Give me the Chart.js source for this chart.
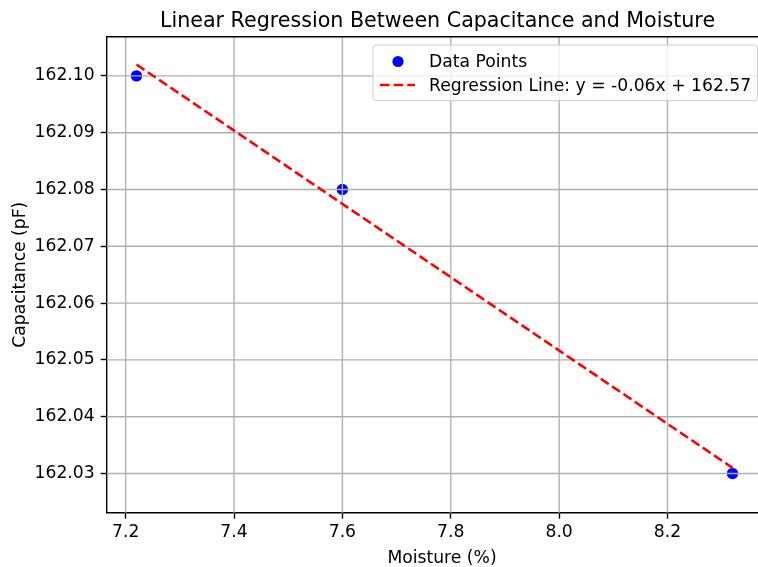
<!DOCTYPE html>
<html><head><meta charset="utf-8">
<script src="https://cdn.jsdelivr.net/npm/chart.js@4"></script>
<style>html,body{margin:0;padding:0;overflow:hidden;background:#fff;width:758px;height:567px}
canvas{display:block}</style></head>
<body><canvas id="c" width="768" height="567" style="width:768px;height:567px"></canvas>
<script>
// ---- data ----
const moisture = [7.22, 7.60, 8.32];
const capacitance = [162.10, 162.08, 162.03];
const lineX = [7.22, 8.32];
const lineY = [162.102, 162.031];
const xTicks = [7.2, 7.4, 7.6, 7.8, 8.0, 8.2];
const yTicks = [162.03, 162.04, 162.05, 162.06, 162.07, 162.08, 162.09, 162.10];
const titleText = 'Linear Regression Between Capacitance and Moisture';
const xLabel = 'Moisture (%)';
const yLabel = 'Capacitance (pF)';
const legendLabels = ['Data Points', 'Regression Line: y = -0.06x + 162.57'];

const FONT = '"DejaVu Sans", sans-serif';
const GRID = '#b0b0b0';
const PT = 1.72;
const FS = 17.2;

const gridOverScatter = {
  id: 'gridOverScatter',
  afterDatasetDraw(chart, args) {
    if (args.index !== 0) return;
    const {ctx, chartArea: a, scales} = chart;
    ctx.save();
    ctx.strokeStyle = GRID; ctx.lineWidth = 0.8 * PT;
    ctx.beginPath();
    xTicks.forEach(v => { const px = scales.x.getPixelForValue(v); ctx.moveTo(px, a.top); ctx.lineTo(px, a.bottom); });
    yTicks.forEach(v => { const py = scales.y.getPixelForValue(v); ctx.moveTo(a.left, py); ctx.lineTo(a.right, py); });
    ctx.stroke();
    ctx.restore();
  }
};

const deco = {
  id: 'deco',
  afterDraw(chart) {
    const {ctx, chartArea: a} = chart;
    ctx.save();
    // top spine
    ctx.strokeStyle = '#000'; ctx.lineWidth = 0.8 * PT;
    ctx.beginPath(); ctx.moveTo(a.left, a.top); ctx.lineTo(a.right, a.top); ctx.stroke();
    // title
    ctx.fillStyle = '#000';
    ctx.textAlign = 'center'; ctx.textBaseline = 'alphabetic';
    ctx.font = (FS * 1.2) + 'px ' + FONT;
    ctx.fillText(titleText, 437.5, 26.5);
    // x label
    ctx.font = FS + 'px ' + FONT;
    ctx.fillText(xLabel, 442, 562.5);
    // y label
    ctx.save();
    ctx.translate(24.5, (a.top + a.bottom) / 2);
    ctx.rotate(-Math.PI / 2);
    ctx.fillText(yLabel, 0, 0);
    ctx.restore();
    // legend
    const L = 373, T = 45, R = 757.5, B = 100.7;
    ctx.beginPath();
    ctx.roundRect(L, T, R - L, B - T, 3);
    ctx.fillStyle = 'rgba(255,255,255,0.8)';
    ctx.fill();
    ctx.strokeStyle = '#cccccc'; ctx.lineWidth = 1;
    ctx.stroke();
    ctx.fillStyle = '#0000ff';
    ctx.beginPath(); ctx.arc(398, 61.5, 5.6, 0, Math.PI * 2); ctx.fill();
    ctx.strokeStyle = '#ff0000'; ctx.lineWidth = 1.5 * PT;
    ctx.setLineDash([5.55 * PT, 2.4 * PT]);
    ctx.beginPath(); ctx.moveTo(380, 85); ctx.lineTo(415, 85); ctx.stroke();
    ctx.setLineDash([]);
    ctx.fillStyle = '#000'; ctx.textAlign = 'left';
    ctx.font = FS + 'px ' + FONT;
    ctx.fillText(legendLabels[0], 429, 66.5);
    ctx.fillText(legendLabels[1], 429, 90.5);
    ctx.restore();
  }
};

new Chart(document.getElementById('c'), {
  type: 'scatter',
  data: {
    datasets: [
      {
        type: 'scatter', label: legendLabels[0], order: 1,
        data: moisture.map((x, i) => ({x, y: capacitance[i]})),
        backgroundColor: '#0000ff', borderWidth: 0, pointRadius: 5.7, pointHoverRadius: 5.7
      },
      {
        type: 'line', label: legendLabels[1], order: 0,
        data: lineX.map((x, i) => ({x, y: lineY[i]})),
        borderColor: '#ff0000', borderWidth: 1.5 * PT, borderDash: [5.55 * PT, 2.4 * PT],
        pointRadius: 0, fill: false, tension: 0
      }
    ]
  },
  options: {
    responsive: false, animation: false, events: [],
    layout: {padding: {top: 36.7, right: 0.8, left: 0, bottom: 0}},
    plugins: {legend: {display: false}, tooltip: {enabled: false}, title: {display: false}},
    scales: {
      x: {
        type: 'linear', min: 7.165, max: 8.375,
        afterFit(s) { s.height = 54.3; },
        afterBuildTicks(s) { s.ticks = xTicks.map(v => ({value: v})); },
        grid: {drawOnChartArea: false, drawTicks: true, tickLength: 6, tickColor: '#000', tickWidth: 0.8 * PT, color: GRID},
        border: {display: true, color: '#000', width: 0.8 * PT},
        ticks: {color: '#000', padding: 4, maxRotation: 0, autoSkip: false, font: {family: FONT, size: FS},
          callback: v => Number(v).toFixed(1)}
      },
      y: {
        type: 'linear', min: 162.0231, max: 162.1069,
        afterFit(s) { s.width = 106.7; },
        afterBuildTicks(s) { s.ticks = yTicks.map(v => ({value: v})); },
        grid: {drawOnChartArea: false, drawTicks: true, tickLength: 6, tickColor: '#000', tickWidth: 0.8 * PT, color: GRID},
        border: {display: true, color: '#000', width: 0.8 * PT},
        ticks: {color: '#000', padding: 6, autoSkip: false, font: {family: FONT, size: FS},
          callback: v => Number(v).toFixed(2)}
      }
    }
  },
  plugins: [gridOverScatter, deco]
});
</script>
</body></html>
